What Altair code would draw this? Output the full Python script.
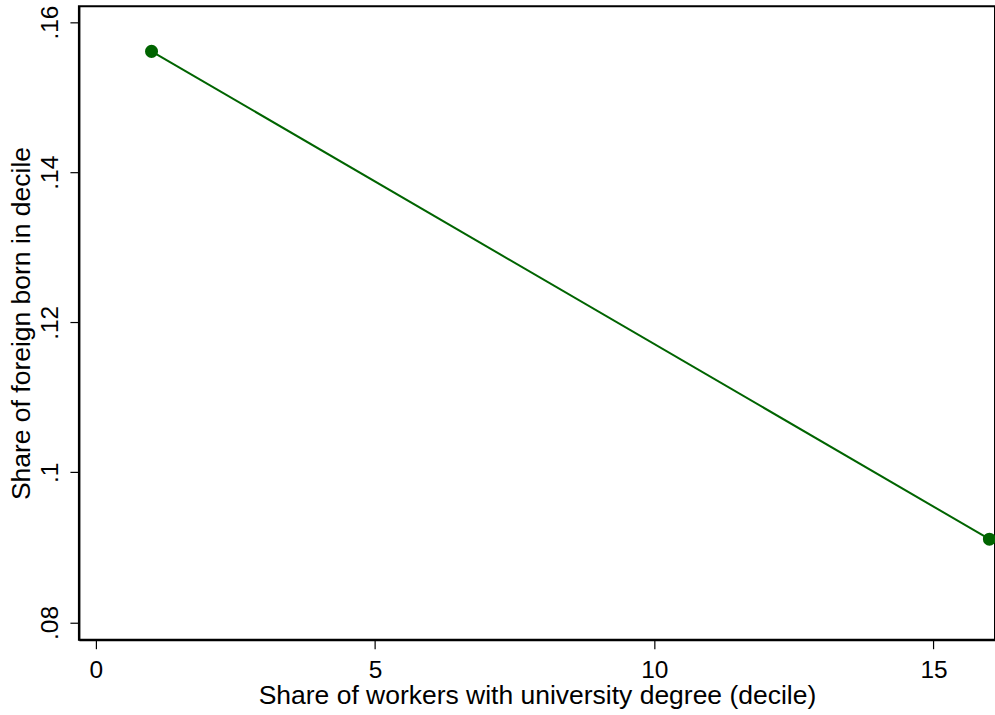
import altair as alt
import pandas as pd

# Decile of university-educated workers vs. share of foreign born
decile = [1, 16]
share_foreign = [0.1561, 0.0911]

df = pd.DataFrame({"decile": decile, "share": share_foreign})

x_ticks = [0, 5, 10, 15]
y_ticks = [0.08, 0.10, 0.12, 0.14, 0.16]

GREEN = "#006400"
FONT = "Liberation Sans"
LABEL_SIZE = 24.5
TITLE_SIZE = 26.5

x_enc = alt.X(
    "decile:Q",
    scale=alt.Scale(domain=[-0.3, 16.1], nice=False, zero=False),
    axis=alt.Axis(
        title="Share of workers with university degree (decile)",
        values=x_ticks,
        format="d",
        grid=False,
        domainColor="black",
        domainWidth=2,
        tickColor="black",
        tickWidth=1.2,
        tickSize=9,
        labelPadding=10,
        labelFontSize=LABEL_SIZE,
        labelColor="black",
        labelFont=FONT,
        titleFont=FONT,
        titleFontSize=TITLE_SIZE,
        titleFontWeight="normal",
        titleColor="black",
        titlePadding=0,
    ),
)
y_enc = alt.Y(
    "share:Q",
    scale=alt.Scale(domain=[0.0777, 0.1621], nice=False, zero=False),
    axis=alt.Axis(
        title="Share of foreign born in decile",
        values=y_ticks,
        labelExpr="slice(format(datum.value, '.2~f'), 1)",
        grid=False,
        domainColor="black",
        domainWidth=2,
        tickColor="black",
        tickWidth=1.2,
        tickSize=9,
        labelAngle=270,
        labelAlign="center",
        labelBaseline="bottom",
        labelPadding=7,
        labelFontSize=LABEL_SIZE,
        labelColor="black",
        labelFont=FONT,
        titleFont=FONT,
        titleFontSize=TITLE_SIZE,
        titleFontWeight="normal",
        titleColor="black",
        titlePadding=2,
    ),
)

line = alt.Chart(df).mark_line(color=GREEN, strokeWidth=2).encode(x=x_enc, y=y_enc)
pts = alt.Chart(df).mark_point(
    filled=True, color=GREEN, size=170, opacity=1, shape="circle"
).encode(x="decile:Q", y="share:Q")

chart = (
    alt.layer(line, pts)
    .properties(
        width=917,
        height=634,
        padding={"left": 79, "top": 6, "right": 0, "bottom": 75},
        autosize=alt.AutoSizeParams(type="none"),
        background="white",
    )
    .configure_view(stroke="black", strokeWidth=2)
)

chart.save("out.html", embed_options={"renderer": "svg", "actions": False})
